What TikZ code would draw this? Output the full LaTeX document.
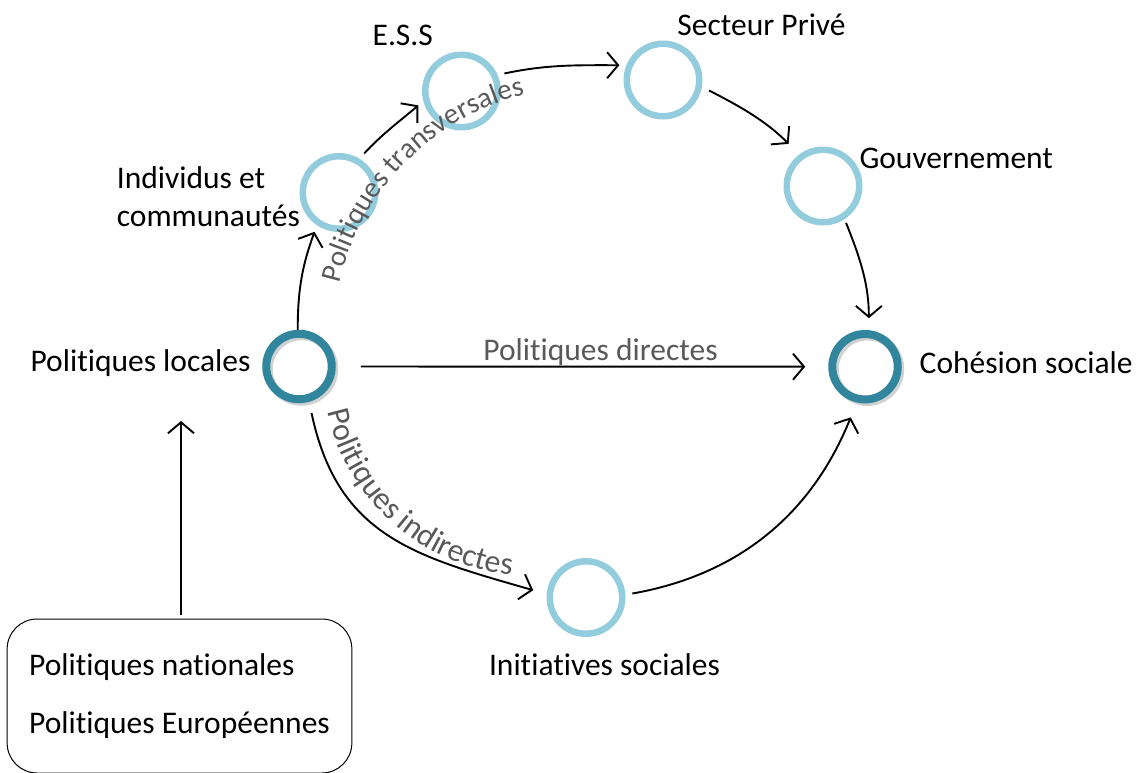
\documentclass[tikz,border=0pt]{standalone}
\usepackage{fontspec}
\setmainfont{Carlito}[RawFeature={-liga;-clig;-rlig;-calt;-dlig}]
\usetikzlibrary{arrows.meta}
\usetikzlibrary{shadows}
\usetikzlibrary{decorations.text}
\definecolor{ringlight}{HTML}{93CDDD}
\definecolor{ringdark}{HTML}{31859C}
\definecolor{txtgray}{HTML}{595959}
\newcommand{\bigfont}{\fontsize{31.5}{38.4}\selectfont}

\tikzset{
  lightring/.style={circle, draw=ringlight, line width=6.5pt, minimum size=72.5pt, inner sep=0pt},
  darkring/.style={circle, draw=ringdark, line width=8pt, minimum size=65.5pt, inner sep=0pt,
    drop shadow={shadow xshift=2.5pt, shadow yshift=-2.5pt, fill=none, draw=black, line width=8pt, opacity=.18}},
  lbl/.style={inner sep=0pt, font=\bigfont},
  graylbl/.style={lbl, text=txtgray},
  arr/.style={-{Straight Barb[length=11pt,width=26pt]}, line width=1.9pt},
}

\begin{document}
\begin{tikzpicture}[x=1pt, y=1pt]
\useasboundingbox (0,0) rectangle (1143,-772);

\node[darkring] (loc) at (299,-366.5) {};
\node[darkring] (coh) at (865,-366.7) {};
\node[lightring] (ind) at (339,-192.5) {};
\node[lightring] (ess) at (461.5,-91) {};
\node[lightring] (prive) at (663,-80) {};
\node[lightring] (gouv) at (823,-186) {};
\node[lightring] (init) at (586,-597.5) {};

\node[lbl, anchor=base east] (loclbl) at (250.7,-371.7) {Politiques locales};
\node[lbl, anchor=base west] (cohlbl) at (919.5,-373.3) {Cohésion sociale};
\node[lbl, anchor=base west, align=left] (indlbl) at (116.7,-226.7) {Individus et\\communautés};
\node[lbl, anchor=base] (esslbl) at (402.8,-45) {E.S.S};
\node[lbl, anchor=base] (privelbl) at (761.5,-35) {Secteur Privé};
\node[lbl, anchor=base west] (gouvlbl) at (859.3,-168.3) {Gouvernement};
\node[lbl, anchor=base] (initlbl) at (604.5,-675) {Initiatives sociales};
\node[graylbl, anchor=base] (directlbl) at (600.5,-360) {Politiques directes};

\node[draw, line width=1pt, rounded corners=30pt, minimum width=342pt, minimum height=154pt,
  inner xsep=22pt, align=left, font=\bigfont] (natbox) at (179.5,-696)
  {Politiques nationales\\[19.6pt]Politiques Européennes};
\coordinate (natup) at (181,-421);

\draw[arr, shorten >=7pt] (loc.92) to[out=90, in=-110] (ind.236);
\draw[arr, shorten <=7pt, shorten >=6.5pt] (ind.59) to[out=47, in=-140] (ess.195);
\draw[arr, shorten <=7pt, shorten >=7pt] (ess.24) to[out=12, in=180] (prive.158);
\draw[arr, shorten <=8pt, shorten >=15pt] (prive.-10) to[out=-27, in=135] (gouv.127);
\draw[arr, shorten <=4pt, shorten >=12pt] (gouv.-57) to[out=-68, in=90] (coh.84);
\draw[arr, shorten <=25pt, shorten >=23pt] (loc) -- (coh);
\draw[arr, shorten <=11.5pt, shorten >=14pt] (loc.-74) to[out=-78, in=164, looseness=1.15] (init.175);
\draw[arr, shorten <=7pt, shorten >=16pt] (init.4) to[out=10, in=248] (coh.257);
\draw[arr, shorten <=4pt] (natbox.north -| natup) -- (natup);

\path[decorate, decoration={text along path, text align=center,
  text={|\fontsize{29}{34}\selectfont\color{txtgray}|Politiques transversales}}]
  (336.66,-296.71) arc[start angle=170, end angle=101, radius=253.9pt];
\path[decorate, decoration={text along path, text align=center,
  text={|\fontsize{32}{38}\selectfont\color{txtgray}|Politiques indirectes}}]
  (325.07,-399.62) arc[start angle=189, end angle=268, radius=208.5pt];
\end{tikzpicture}
\end{document}
